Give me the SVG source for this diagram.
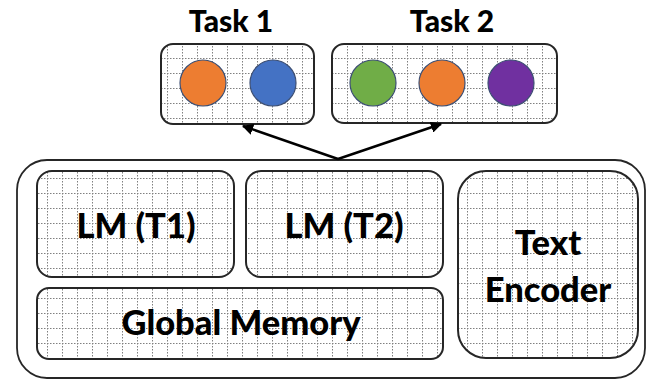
<svg xmlns="http://www.w3.org/2000/svg" width="646" height="379" viewBox="0 0 646 379">
  <style>
    .box { fill: url(#grid); stroke: #262626; stroke-width: 2; }
    .outer { fill: #ffffff; stroke: #262626; stroke-width: 1.8; }
    .label { font-family: Lato, "Open Sans", sans-serif; font-weight: 900; fill: #000000; text-anchor: middle; }
    .title { font-size: 30px; }
    .big { font-size: 34.5px; }
    .dot { stroke: #3d4f73; stroke-width: 1.2; }
    .link { stroke: #000000; stroke-width: 2.5; fill: none; marker-end: url(#head); }
  </style>
  <defs>
    <!-- dotted grey grid used as the fill of every module -->
    <pattern id="grid" width="15" height="15" patternUnits="userSpaceOnUse" x="2" y="13">
      <rect width="15" height="15" fill="#ffffff"/>
      <line x1="0" y1="0.5" x2="15" y2="0.5" stroke="#808080" stroke-width="1" stroke-dasharray="1.5 1.5"/>
      <line x1="0.5" y1="0" x2="0.5" y2="15" stroke="#808080" stroke-width="1" stroke-dasharray="1.5 1.5"/>
    </pattern>
    <marker id="head" viewBox="0 0 10 10" refX="9" refY="5" markerWidth="4.5" markerHeight="4.5" orient="auto" markerUnits="strokeWidth">
      <path d="M0,0 L10,5 L0,10 Z" fill="#000000"/>
    </marker>
  </defs>

  <!-- task outputs -->
  <g id="task1">
    <text class="label title" x="231" y="32">Task 1</text>
    <rect class="box" x="161" y="44" width="153" height="80" rx="12"/>
    <circle class="dot" cx="203" cy="83" r="23" fill="#ed7d31"/>
    <circle class="dot" cx="273" cy="83" r="23" fill="#4472c4"/>
  </g>
  <g id="task2">
    <text class="label title" x="452" y="32">Task 2</text>
    <rect class="box" x="332" y="44" width="225" height="79" rx="12"/>
    <circle class="dot" cx="373" cy="83" r="23" fill="#70ad47"/>
    <circle class="dot" cx="442" cy="83" r="23" fill="#ed7d31"/>
    <circle class="dot" cx="511" cy="83" r="23" fill="#7030a0"/>
  </g>

  <!-- model container -->
  <g id="model">
    <rect class="outer" x="17" y="160" width="628" height="218" rx="30"/>
  </g>
  <g id="lm-t1">
    <rect class="box" x="37" y="171" width="197" height="106" rx="15"/>
    <text class="label big" x="136" y="238">LM (T1)</text>
  </g>
  <g id="lm-t2">
    <rect class="box" x="246" y="171" width="197" height="106" rx="15"/>
    <text class="label big" x="344" y="238">LM (T2)</text>
  </g>
  <g id="global-memory">
    <rect class="box" x="37" y="288" width="406" height="71" rx="12"/>
    <text class="label big" x="241" y="335">Global Memory</text>
  </g>
  <g id="text-encoder">
    <rect class="box" x="458" y="171" width="180" height="187" rx="28"/>
    <text class="label big" x="548" y="255">Text</text>
    <text class="label big" x="548" y="302">Encoder</text>
  </g>

  <!-- connectors -->
  <g id="connectors">
    <line class="link" x1="338" y1="159" x2="243" y2="126"/>
    <line class="link" x1="338" y1="159" x2="441" y2="124"/>
  </g>
</svg>
